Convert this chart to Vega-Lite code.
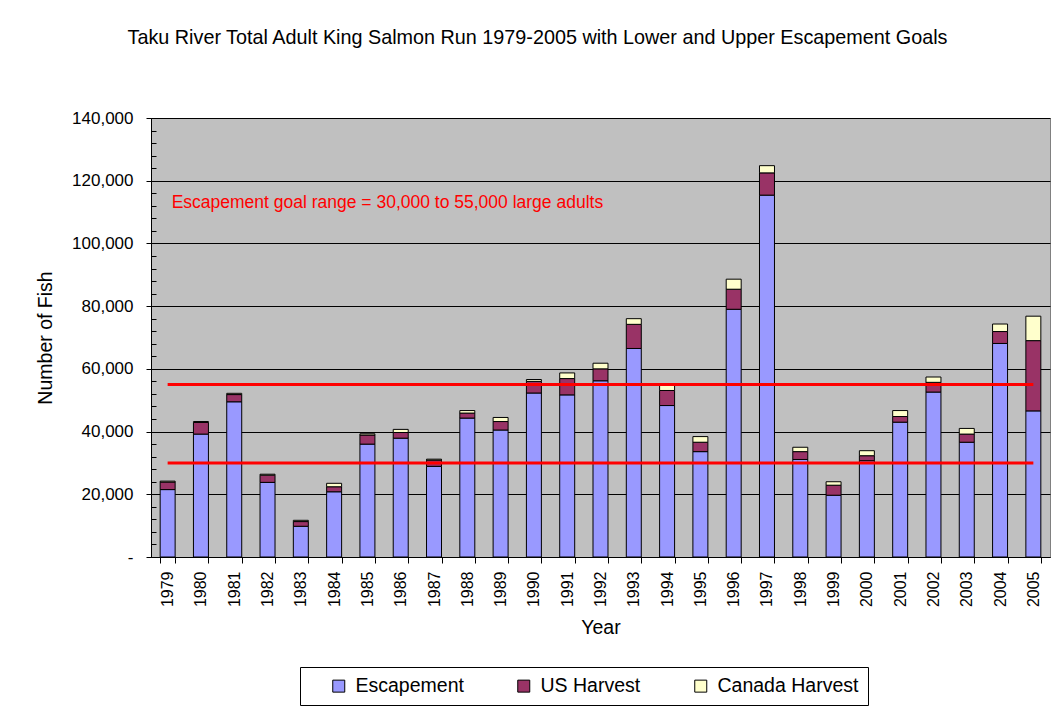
{
  "$schema": "https://vega.github.io/schema/vega-lite/v6.json",
  "width": 899,
  "height": 439,
  "autosize": "none",
  "padding": {"left": 151, "top": 118, "right": 7, "bottom": 151},
  "background": "white",
  "config": {
    "font": "Liberation Sans",
    "view": {"fill": "#C0C0C0", "stroke": "#808080", "strokeWidth": 1}
  },
  "title": {
    "text": "Taku River Total Adult King Salmon Run 1979-2005 with Lower and Upper Escapement Goals",
    "font": "Liberation Sans",
    "fontSize": 19.8,
    "fontWeight": "normal",
    "color": "black",
    "anchor": "middle",
    "frame": "group",
    "dx": -63,
    "baseline": "alphabetic",
    "offset": 45
  },
  "layer": [
    {
      "data": {
        "values": [
          {"year": "1979", "Escapement": 21500, "US Harvest": 2400, "Canada Harvest": 300},
          {"year": "1980", "Escapement": 39200, "US Harvest": 3700, "Canada Harvest": 300},
          {"year": "1981", "Escapement": 49500, "US Harvest": 2300, "Canada Harvest": 400},
          {"year": "1982", "Escapement": 23800, "US Harvest": 2300, "Canada Harvest": 300},
          {"year": "1983", "Escapement": 9800, "US Harvest": 1500, "Canada Harvest": 400},
          {"year": "1984", "Escapement": 20800, "US Harvest": 1600, "Canada Harvest": 1100},
          {"year": "1985", "Escapement": 36000, "US Harvest": 2900, "Canada Harvest": 400},
          {"year": "1986", "Escapement": 37900, "US Harvest": 1800, "Canada Harvest": 1000},
          {"year": "1987", "Escapement": 28900, "US Harvest": 2000, "Canada Harvest": 300},
          {"year": "1988", "Escapement": 44300, "US Harvest": 1600, "Canada Harvest": 800},
          {"year": "1989", "Escapement": 40500, "US Harvest": 2700, "Canada Harvest": 1300},
          {"year": "1990", "Escapement": 52300, "US Harvest": 3700, "Canada Harvest": 600},
          {"year": "1991", "Escapement": 51700, "US Harvest": 5200, "Canada Harvest": 1800},
          {"year": "1992", "Escapement": 56200, "US Harvest": 3800, "Canada Harvest": 1800},
          {"year": "1993", "Escapement": 66500, "US Harvest": 7700, "Canada Harvest": 1800},
          {"year": "1994", "Escapement": 48300, "US Harvest": 4800, "Canada Harvest": 2100},
          {"year": "1995", "Escapement": 33600, "US Harvest": 3000, "Canada Harvest": 1800},
          {"year": "1996", "Escapement": 79000, "US Harvest": 6400, "Canada Harvest": 3200},
          {"year": "1997", "Escapement": 115400, "US Harvest": 7100, "Canada Harvest": 2300},
          {"year": "1998", "Escapement": 31100, "US Harvest": 2500, "Canada Harvest": 1400},
          {"year": "1999", "Escapement": 19700, "US Harvest": 3200, "Canada Harvest": 1100},
          {"year": "2000", "Escapement": 30700, "US Harvest": 1600, "Canada Harvest": 1600},
          {"year": "2001", "Escapement": 43000, "US Harvest": 1800, "Canada Harvest": 1900},
          {"year": "2002", "Escapement": 52600, "US Harvest": 3100, "Canada Harvest": 1700},
          {"year": "2003", "Escapement": 36600, "US Harvest": 2600, "Canada Harvest": 1800},
          {"year": "2004", "Escapement": 68100, "US Harvest": 3800, "Canada Harvest": 2400},
          {"year": "2005", "Escapement": 46600, "US Harvest": 22400, "Canada Harvest": 7800}
        ]
      },
      "transform": [
        {"fold": ["Escapement", "US Harvest", "Canada Harvest"], "as": ["series", "fish"]},
        {"calculate": "indexof(['Escapement','US Harvest','Canada Harvest'], datum.series)", "as": "ord"}
      ],
      "mark": {"type": "bar", "stroke": "black", "strokeWidth": 1},
      "encoding": {
        "x": {
          "field": "year",
          "type": "nominal",
          "scale": {"paddingInner": 0.55, "paddingOuter": 0.275},
          "axis": {
            "title": "Year",
            "titleFontSize": 19.5,
            "titleFontWeight": "normal",
            "titleColor": "black",
            "titlePadding": 12,
            "labelAngle": 270,
            "labelFontSize": 16,
            "labelColor": "black",
            "labelPadding": 8,
            "tickBand": "extent",
            "tickColor": "black",
            "tickSize": 6,
            "domainColor": "black",
            "grid": false
          }
        },
        "y": {
          "field": "fish",
          "type": "quantitative",
          "aggregate": "sum",
          "stack": "zero",
          "scale": {"domain": [0, 140000], "nice": false},
          "axis": {
            "title": "Number of Fish",
            "titleFontSize": 19.5,
            "titleFontWeight": "normal",
            "titleColor": "black",
            "titlePadding": 16,
            "values": [0, 20000, 40000, 60000, 80000, 100000, 120000, 140000],
            "labelExpr": "datum.value === 0 ? '-' : format(datum.value, ',')",
            "labelFontSize": 17,
            "labelColor": "black",
            "labelPadding": 13,
            "tickColor": "black",
            "tickSize": 5,
            "domainColor": "black",
            "grid": true,
            "gridColor": "black",
            "gridOpacity": 1,
            "gridWidth": 1
          }
        },
        "color": {
          "field": "series",
          "type": "nominal",
          "scale": {
            "domain": ["Escapement", "US Harvest", "Canada Harvest"],
            "range": ["#9999FF", "#993366", "#FFFFCC"]
          },
          "legend": {
            "title": null,
            "orient": "none",
            "legendX": 149,
            "legendY": 549,
            "direction": "horizontal",
            "strokeColor": "black",
            "fillColor": "white",
            "padding": 9,
            "symbolType": "square",
            "symbolSize": 144,
            "symbolStrokeColor": "black",
            "symbolStrokeWidth": 1,
            "symbolOffset": 20,
            "labelFontSize": 19.5,
            "labelColor": "black",
            "labelOffset": 7,
            "columnPadding": 30,
            "labelLimit": 300
          }
        },
        "order": {"field": "ord", "type": "quantitative"}
      }
    },
    {
      "data": {
        "values": [
          {"year": "1979", "goal": 55000, "level": "upper"},
          {"year": "2005", "goal": 55000, "level": "upper"},
          {"year": "1979", "goal": 30000, "level": "lower"},
          {"year": "2005", "goal": 30000, "level": "lower"}
        ]
      },
      "mark": {"type": "line", "color": "#FF0000", "strokeWidth": 3},
      "encoding": {
        "x": {"field": "year", "type": "nominal"},
        "y": {
          "field": "goal",
          "type": "quantitative",
          "axis": {
            "orient": "left",
            "title": null,
            "labels": false,
            "domain": false,
            "grid": false,
            "values": [0, 4000, 8000, 12000, 16000, 20000, 24000, 28000, 32000, 36000, 40000, 44000, 48000, 52000, 56000, 60000, 64000, 68000, 72000, 76000, 80000, 84000, 88000, 92000, 96000, 100000, 104000, 108000, 112000, 116000, 120000, 124000, 128000, 132000, 136000, 140000],
            "tickSize": -5,
            "tickColor": "black"
          }
        },
        "detail": {"field": "level", "type": "nominal"}
      }
    },
    {
      "data": {
        "values": [
          {"year": "1979", "fish": 113000, "label": "Escapement goal range = 30,000 to 55,000 large adults"}
        ]
      },
      "mark": {"type": "text", "align": "left", "baseline": "middle", "dx": 4, "color": "#FF0000", "fontSize": 17.5},
      "encoding": {
        "x": {"field": "year", "type": "nominal"},
        "y": {"field": "fish", "type": "quantitative", "axis": null},
        "text": {"field": "label"}
      }
    }
  ],
  "resolve": {"axis": {"y": "independent"}}
}
